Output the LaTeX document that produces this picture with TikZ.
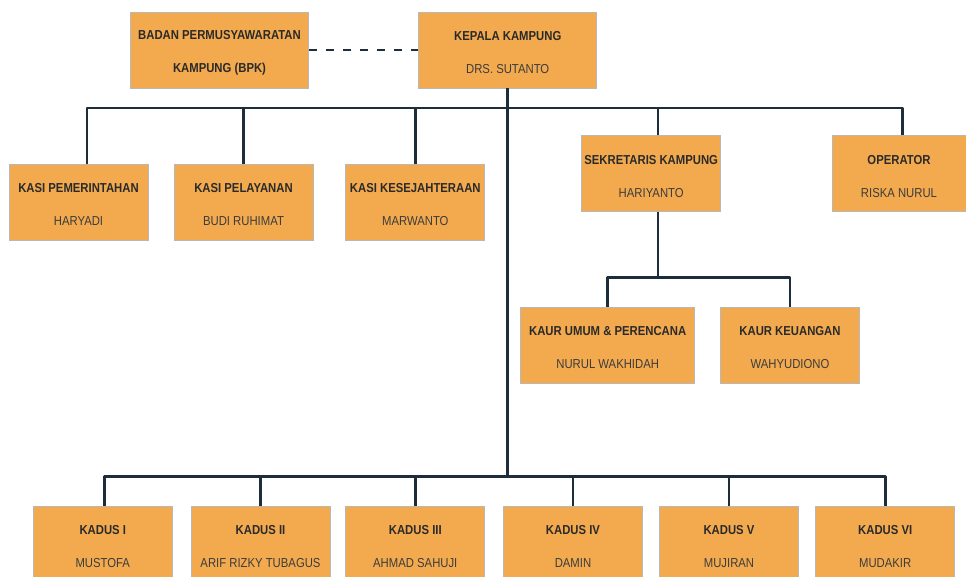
\documentclass[tikz,border=0pt]{standalone}
\usepackage{fontspec}
\setmainfont{Liberation Sans}[FakeStretch=0.87]
\definecolor{boxfill}{HTML}{F3AA4E}
\definecolor{boxline}{HTML}{B8B8B8}
\definecolor{conn}{HTML}{1E2D3B}
\definecolor{ttl}{HTML}{2A2A2A}
\definecolor{nm}{HTML}{3C3C3C}
\tikzset{
  orgbox/.style={draw=boxline, fill=boxfill, line width=0.7pt, inner sep=0pt,
    minimum height=76pt, minimum width=139pt, align=center,
    font=\fontsize{13}{33}\selectfont},
  link/.style={draw=conn, line width=2.6pt, line join=round},
}
\newcommand{\bx}[2]{\rule{0pt}{14.5pt}{\color{ttl}\bfseries #1}\\{\color{nm}#2}}
\begin{document}
\begin{tikzpicture}[x=1pt,y=-1pt]
\useasboundingbox (0,0) rectangle (966,577);
% top
\node[orgbox, minimum width=178pt] (bpk) at (219.5,50) {\bx{BADAN PERMUSYAWARATAN}{\bfseries\color{ttl}KAMPUNG (BPK)}};
\node[orgbox, minimum width=178pt] (kep) at (507.7,50) {\bx{KEPALA KAMPUNG}{DRS. SUTANTO}};
% row 2
\node[orgbox] (ks1) at (78.5,202) {\bx{KASI PEMERINTAHAN}{HARYADI}};
\node[orgbox] (ks2) at (243.5,202) {\bx{KASI PELAYANAN}{BUDI RUHIMAT}};
\node[orgbox] (ks3) at (415.3,202) {\bx{KASI KESEJAHTERAAN}{MARWANTO}};
\node[orgbox] (sek) at (651.2,173.7) {\bx{SEKRETARIS KAMPUNG}{HARIYANTO}};
\node[orgbox, minimum width=134pt] (opr) at (899,173.7) {\bx{OPERATOR}{RISKA NURUL}};
% kaur
\node[orgbox, minimum width=174pt] (kr1) at (607.7,345) {\bx{KAUR UMUM \& PERENCANA}{NURUL WAKHIDAH}};
\node[orgbox, minimum width=139.4pt] (kr2) at (790,345) {\bx{KAUR KEUANGAN}{WAHYUDIONO}};
% kadus
\node[orgbox] (kd1) at (102.8,544) {\bx{KADUS I}{MUSTOFA}};
\node[orgbox] (kd2) at (260.5,544) {\bx{KADUS II}{ARIF RIZKY TUBAGUS}};
\node[orgbox] (kd3) at (415.3,544) {\bx{KADUS III}{AHMAD SAHUJI}};
\node[orgbox] (kd4) at (573,544) {\bx{KADUS IV}{DAMIN}};
\node[orgbox] (kd5) at (729,544) {\bx{KADUS V}{MUJIRAN}};
\node[orgbox] (kd6) at (885.2,544) {\bx{KADUS VI}{MUDAKIR}};
% connectors
\coordinate (busT) at (507.7,108);
\coordinate (busS) at (658,277.7);
\coordinate (busB) at (507.7,476.7);
\draw[link, dash pattern=on 8pt off 9pt] (bpk.east) -- (kep.west);
\draw[link] (kep.south) -- (busB);
\draw[link] ([xshift=8.5pt]ks1.north) |- (busT);
\draw[link] (ks2.north) |- (busT);
\draw[link] (ks3.north) |- (busT);
\draw[link] ([xshift=6.8pt]sek.north) |- (busT);
\draw[link] ([xshift=3.7pt]opr.north) |- (busT);
\draw[link] ([xshift=6.8pt]sek.south) -- (busS);
\draw[link] (kr1.north) |- (busS);
\draw[link] (kr2.north) |- (busS);
\draw[link] ([xshift=1.5pt]kd1.north) |- (busB);
\draw[link] (kd2.north) |- (busB);
\draw[link] (kd3.north) |- (busB);
\draw[link] (kd4.north) |- (busB);
\draw[link] (kd5.north) |- (busB);
\draw[link] (kd6.north) |- (busB);
\end{tikzpicture}
\end{document}
